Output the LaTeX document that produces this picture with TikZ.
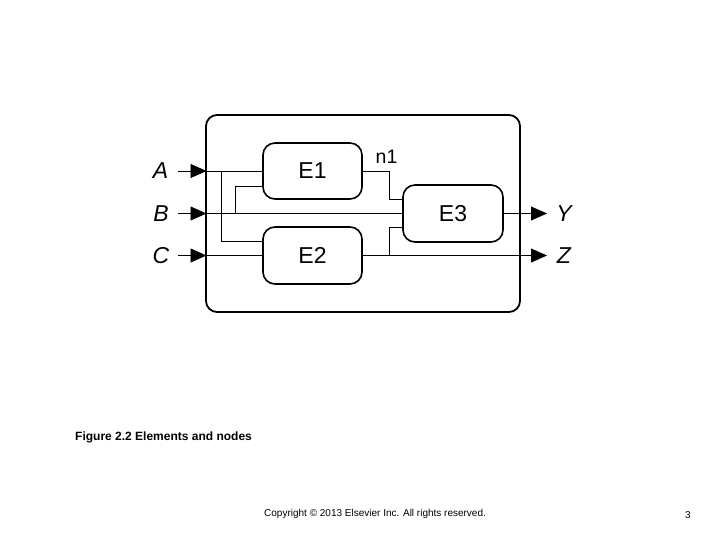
\documentclass[tikz,border=0pt]{standalone}
\usepackage{fontspec}
\setmainfont{Liberation Sans}
\usetikzlibrary{arrows.meta}
\begin{document}
\begin{tikzpicture}[x=1pt,y=-1pt,
  elem/.style={draw,line width=1.6pt,rounded corners=12pt,minimum width=99pt,minimum height=56pt,font=\fontsize{23}{23}\selectfont,inner sep=0pt},
  sysbox/.style={draw,line width=1.8pt,rounded corners=11pt,minimum width=314pt,minimum height=197pt,inner sep=0pt},
  wire/.style={line width=0.8pt},
  arr/.style={wire,-{Triangle[length=16pt,width=14pt]}},
  port/.style={font=\fontsize{23}{23}\selectfont\itshape,inner sep=0pt}]
\useasboundingbox (0,0) rectangle (720,540);
% outer system box
\node[sysbox] (sys) at (363,213.5) {};
% elements
\node[elem] (E1) at (312.5,171) {E1};
\node[elem,minimum height=57pt] (E2) at (312.5,255.5) {E2};
\node[elem,minimum width=100pt,minimum height=57pt] (E3) at (453,213.5) {E3};
% port labels
\node[port] (A) at (160.5,171) {A};
\node[port] (B) at (161,213.5) {B};
\node[port] (C) at (161,255.5) {C};
\node[port] (Y) at (564,213.5) {Y};
\node[port] (Z) at (564,255.5) {Z};
\node[font=\fontsize{19.5}{19.5}\selectfont,inner sep=0pt] (n1) at (386.5,157) {n1};
% coordinates
\coordinate (sA) at (178,171);
\coordinate (sB) at (178,213.5);
\coordinate (sC) at (178,255.5);
\coordinate (jA) at (206.5,171);
\coordinate (jB) at (206.5,213.5);
\coordinate (jC) at (206.5,255.5);
\coordinate (a1) at (221,171);
\coordinate (b1) at (235,213.5);
\coordinate (m1) at (389,171);
\coordinate (m2) at (389,255.5);
\coordinate (tY) at (547,213.5);
\coordinate (tZ) at (547,255.5);
% input arrows
\draw[arr] (sA) -- (jA);
\draw[arr] (sB) -- (jB);
\draw[arr] (sC) -- (jC);
% internal wires
\draw[wire] (jA) -- (E1.west);
\draw[wire] (a1) |- ([yshift=14pt]E2.west);
\draw[wire] (b1) |- ([yshift=-15pt]E1.west);
\draw[wire] (jB) -- (E3.west);
\draw[wire] (jC) -- (E2.west);
\draw[wire] (E1.east) -- (m1) |- ([yshift=14pt]E3.west);
\draw[wire] (m2) |- ([yshift=-14pt]E3.west);
% output arrows
\draw[arr] (E3.east) -- (tY);
\draw[arr] (E2.east) -- (tZ);
% captions
\node[anchor=west,font=\bfseries\fontsize{12}{12}\selectfont,inner sep=0pt] (cap) at (75,437) {Figure 2.2 Elements and nodes};
\node[anchor=west,font=\fontsize{10}{10}\selectfont,inner sep=0pt] (copy) at (264,514) {Copyright © 2013 Elsevier Inc. All rights reserved.};
\node[font=\fontsize{10}{10}\selectfont,inner sep=0pt] (pg) at (688,515) {3};
\end{tikzpicture}
\end{document}
